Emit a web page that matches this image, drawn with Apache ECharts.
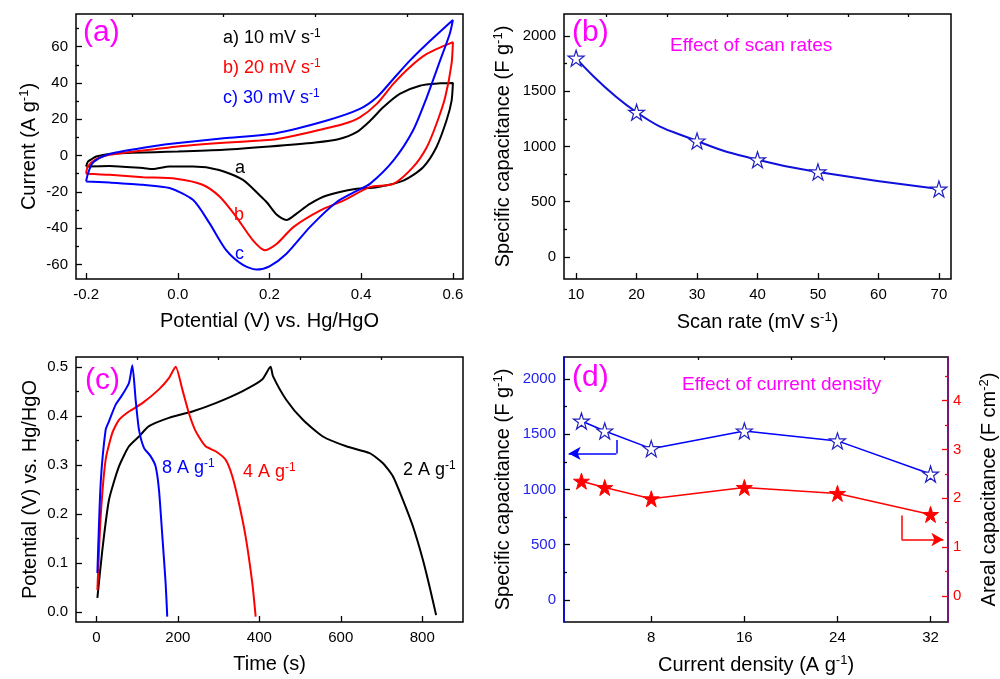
<!DOCTYPE html>
<html>
<head>
<meta charset="utf-8"/>
<script src="https://cdn.jsdelivr.net/npm/echarts@6/dist/echarts.min.js"></script>
<style>
  html, body { margin: 0; padding: 0; background: #fff; }
  #chart { width: 1000px; height: 679px; }
</style>
</head>
<body>
<div id="chart"></div>
<script>
// ---- (a) CV curves: potential (V) / current (A g-1), one loop per scan rate
var cv10X = [-0.2, -0.196, -0.185, -0.178, -0.15, -0.1, -0.05, 0.0, 0.1, 0.2, 0.3, 0.35, 0.39, 0.42, 0.448, 0.484, 0.528, 0.572, 0.6,
             0.597, 0.586, 0.564, 0.535, 0.492, 0.434, 0.39, 0.325, 0.288, 0.259, 0.237, 0.216, 0.194, 0.179, 0.142, 0.09, 0.033, -0.018, -0.055, -0.076, -0.149, -0.2];
var cv10Y = [-6, -3.3, -1.5, -0.5, 0.9, 1.5, 1.9, 2.2, 3.2, 5, 7.2, 9, 12.9, 19.3, 26.6, 34, 38.5, 39.8, 40,
             30, 19.3, 4.6, -6.4, -13.8, -17.4, -18.3, -22, -26.6, -32, -35.5, -32.6, -25.7, -22, -13.4, -7.9, -6, -6, -7.4, -6.9, -5.7, -6];
var cv20X = [-0.2, -0.196, -0.178, -0.149, -0.113, -0.05, 0.0, 0.1, 0.179, 0.214, 0.288, 0.361, 0.397, 0.434, 0.47, 0.506, 0.543, 0.6,
             0.597, 0.583, 0.564, 0.543, 0.513, 0.47, 0.419, 0.361, 0.31, 0.252, 0.216, 0.19, 0.163, 0.127, 0.091, 0.054, -0.004, -0.076, -0.149, -0.2];
var cv20Y = [-10, -6, -2, 0.4, 1.7, 3.5, 5, 7, 8.3, 9, 12.9, 17.4, 21.1, 28.5, 39.5, 48.7, 56, 62.5,
             50.5, 32, 17.4, 4.6, -6.4, -15.6, -17.4, -24.8, -30.3, -39.4, -48.6, -52.1, -46.4, -33.6, -22.6, -16.1, -12.8, -11.9, -10.6, -10];
var cv30X = [-0.2, -0.196, -0.186, -0.164, -0.135, -0.05, -0.004, 0.1, 0.214, 0.325, 0.397, 0.434, 0.47, 0.506, 0.543, 0.6,
             0.593, 0.572, 0.543, 0.513, 0.47, 0.419, 0.39, 0.346, 0.288, 0.237, 0.2, 0.171, 0.142, 0.105, 0.069, 0.033, -0.018, -0.076, -0.149, -0.2];
var cv30Y = [-14.3, -10, -4.2, -0.5, 1.7, 5.3, 6.8, 9.5, 12.3, 19.3, 25.7, 32.1, 42.2, 52.3, 61.5, 74.7,
             67, 52.3, 32.1, 13.8, -2.8, -15.6, -19.5, -25.7, -39.4, -54.1, -61, -62.8, -60.2, -51.9, -37.2, -24.4, -17.9, -16.1, -14.9, -14.3];

// ---- (b) specific capacitance vs scan rate
var scanRates = [10, 20, 30, 40, 50, 70];
var capByScan = [1800, 1310, 1050, 880, 770, 615];

// ---- (c) charge/discharge curves: time (s) / potential (V)
var gcd8T = [2.5, 10.6, 22.8, 31, 47.4, 63.8, 80, 88.3, 96.4, 104.6, 116.8, 133, 145.5, 153.6, 162, 170, 174];
var gcd8V = [0.08, 0.263, 0.372, 0.389, 0.423, 0.443, 0.467, 0.503, 0.433, 0.372, 0.335, 0.318, 0.297, 0.25, 0.154, 0.059, -0.009];
var gcd4T = [2.5, 10.6, 22.8, 39, 55.5, 80, 112.9, 153.6, 178, 194.6, 211, 227, 243.7, 268, 292.8, 317, 333.7, 350, 366.4, 382.8, 391];
var gcd4V = [0.045, 0.195, 0.311, 0.365, 0.392, 0.409, 0.426, 0.454, 0.477, 0.5, 0.454, 0.406, 0.369, 0.338, 0.328, 0.311, 0.277, 0.222, 0.154, 0.059, -0.009];
var gcd2T = [2.5, 14.7, 31, 55.5, 80, 104.6, 129, 178, 235.6, 292.8, 358, 407, 427.7, 433.5, 466, 507, 556, 613.5, 670.7, 703, 727.9, 752.4, 777, 801.5, 818, 834];
var gcd2V = [0.029, 0.127, 0.229, 0.297, 0.338, 0.358, 0.379, 0.396, 0.409, 0.426, 0.45, 0.474, 0.5, 0.481, 0.433, 0.392, 0.358, 0.338, 0.324, 0.304, 0.277, 0.229, 0.175, 0.107, 0.052, -0.006];

// ---- (d) specific / areal capacitance vs current density
var currentDensity = [2, 4, 8, 16, 24, 32];
var capByCurrent = [1620, 1530, 1370, 1530, 1440, 1140];
var arealCap = [2.35, 2.22, 1.99, 2.22, 2.10, 1.67];

// tick positions
var ticksAx = [-0.2, 0, 0.2, 0.4, 0.6],  minorAx = [-0.1, 0.1, 0.3, 0.5];
var ticksAy = [-60, -40, -20, 0, 20, 40, 60], minorAy = [-50, -30, -10, 10, 30, 50, 70];
var ticksBx = [10, 20, 30, 40, 50, 60, 70], minorBx = [15, 25, 35, 45, 55, 65];
var ticksCap = [0, 500, 1000, 1500, 2000], minorCap = [250, 750, 1250, 1750];
var ticksCx = [0, 200, 400, 600, 800], minorCx = [100, 300, 500, 700];
var ticksCy = [0, 0.1, 0.2, 0.3, 0.4, 0.5], minorCy = [0.05, 0.15, 0.25, 0.35, 0.45];
var ticksDx = [8, 16, 24, 32], minorDx = [12, 20, 28];
var ticksAreal = [0, 1, 2, 3, 4], minorAreal = [0.5, 1.5, 2.5, 3.5, 4.5];

// arrows in (d): [x, y] pairs on the left / right axis
var arrowLeft = [[5, 1448], [5, 1327], [0.9, 1327]];
var arrowRight = [[29.5, 1.65], [29.5, 1.157], [33.1, 1.157]];

var FONT = '"Liberation Sans", Arial, Helvetica, sans-serif';
var BLUE = '#0000ff', RED = '#ff0000', MAG = '#ff00ff';

function zip(xs, ys) {
    return xs.map(function (x, i) { return [x, ys[i]]; });
}
function sup(color, size) {
    return { sup: { fontSize: size || 13, fontFamily: FONT, color: color, fill: color, padding: [0, 0, 9, 0] } };
}
function fixed1(v) { return v.toFixed(1); }
function plain(v) { return String(v); }

// main axis (labels + major ticks) and a twin for the short minor ticks
function axisPair(dim, grid, min, max, majors, minors, o) {
    o = o || {};
    var tc = o.tickColor || '#000';
    var main = {
        type: 'value', gridIndex: grid, min: min, max: max, position: o.position,
        name: o.name, nameLocation: 'middle', nameGap: o.nameGap, nameRotate: dim === 'y' ? 90 : 0,
        nameTextStyle: { fontFamily: FONT, fontSize: 20, color: '#000', rich: sup('#000') },
        axisLine: o.line ? { show: true, onZero: false, lineStyle: { color: o.line, width: 1.5 } }
                         : { show: false, onZero: false },
        axisTick: { show: true, inside: true, length: 6, customValues: majors, lineStyle: { color: tc, width: 1.3 } },
        axisLabel: { customValues: majors, formatter: o.fmt || plain, fontFamily: FONT, fontSize: 15,
                     color: o.labelColor || '#000', margin: o.margin || 8 },
        splitLine: { show: false }
    };
    var minor = {
        type: 'value', gridIndex: grid, min: min, max: max, position: o.position,
        axisLine: { show: false, onZero: false },
        axisTick: { show: true, inside: true, length: 3, customValues: minors, lineStyle: { color: tc, width: 1.3 } },
        axisLabel: { show: false },
        splitLine: { show: false }
    };
    return [main, minor];
}

var star = 'path://M50,2 L61,36 L97,36 L68,57 L79,92 L50,71 L21,92 L32,57 L3,36 L39,36 Z';

function gridBox(left, top) {
    return { left: left, top: top, width: 387, height: 265, show: true, borderColor: '#000', borderWidth: 1.5,
             backgroundColor: 'transparent', containLabel: false };
}

var xAxes = [].concat(
    axisPair('x', 0, -0.222, 0.622, ticksAx, minorAx, { name: 'Potential (V) vs. Hg/HgO', nameGap: 32, fmt: fixed1 }),
    axisPair('x', 1, 8, 72, ticksBx, minorBx, { name: 'Scan rate (mV s{sup|-1})', nameGap: 32 }),
    axisPair('x', 2, -50, 900, ticksCx, minorCx, { name: 'Time (s)', nameGap: 32 }),
    axisPair('x', 3, 0.5, 33.5, ticksDx, minorDx, { name: 'Current density (A g{sup|-1})', nameGap: 32 })
);
var yAxes = [].concat(
    axisPair('y', 0, -68, 78, ticksAy, minorAy, { name: 'Current (A g{sup|-1})', nameGap: 36, position: 'left' }),
    axisPair('y', 1, -200, 2200, ticksCap, minorCap, { name: 'Specific capacitance (F g{sup|-1})', nameGap: 50, position: 'left' }),
    axisPair('y', 2, -0.02, 0.52, ticksCy, minorCy, { name: 'Potential (V) vs. Hg/HgO', nameGap: 36, fmt: fixed1, position: 'left' }),
    axisPair('y', 3, -200, 2200, ticksCap, minorCap, { name: 'Specific capacitance (F g{sup|-1})', nameGap: 50,
        line: BLUE, labelColor: '#2222ee', position: 'left' }),
    axisPair('y', 3, -0.53, 4.89, ticksAreal, minorAreal, { name: 'Areal capacitance (F cm{sup|-2})', nameGap: 30,
        line: '#8a0a8a', labelColor: RED, tickColor: RED, position: 'right', margin: 5 })
);

function curve(xi, yi, data, color, extra) {
    var s = {
        type: 'line', xAxisIndex: xi, yAxisIndex: yi, data: data, showSymbol: false, symbol: 'none',
        smooth: 0.25, lineStyle: { color: color, width: 2 }, itemStyle: { color: color }, silent: true
    };
    return Object.assign(s, extra || {});
}

function arrowLines(pts) {
    return [
        [{ coord: pts[0], symbol: 'none' }, { coord: pts[1], symbol: 'none' }],
        [{ coord: pts[1], symbol: 'none' }, { coord: pts[2], symbol: 'arrow' }]
    ];
}

var series = [
    curve(0, 0, zip(cv10X, cv10Y), '#000'),
    curve(0, 0, zip(cv20X, cv20Y), RED),
    curve(0, 0, zip(cv30X, cv30Y), BLUE),

    {
        type: 'line', xAxisIndex: 2, yAxisIndex: 2, data: zip(scanRates, capByScan), smooth: true,
        symbol: star, symbolSize: 16, lineStyle: { color: '#1010dd', width: 2 },
        itemStyle: { color: '#fff', borderColor: '#2020c0', borderWidth: 1.2 }, z: 3
    },

    curve(4, 4, zip(gcd2T, gcd2V), '#000', { smooth: 0.2 }),
    curve(4, 4, zip(gcd4T, gcd4V), RED, { smooth: 0.2 }),
    curve(4, 4, zip(gcd8T, gcd8V), BLUE, { smooth: 0.2 }),

    {
        type: 'line', xAxisIndex: 6, yAxisIndex: 6, data: zip(currentDensity, capByCurrent),
        symbol: star, symbolSize: 16, lineStyle: { color: BLUE, width: 1.5 },
        itemStyle: { color: '#fff', borderColor: '#2020c0', borderWidth: 1.2 },
        markLine: {
            silent: true, symbol: ['none', 'arrow'], symbolSize: [10, 12], label: { show: false },
            lineStyle: { color: BLUE, width: 1.5, type: 'solid' }, data: arrowLines(arrowLeft)
        }
    },
    {
        type: 'line', xAxisIndex: 6, yAxisIndex: 8, data: zip(currentDensity, arealCap),
        symbol: star, symbolSize: 16, lineStyle: { color: RED, width: 1.5 },
        itemStyle: { color: RED, borderColor: RED, borderWidth: 1 },
        markLine: {
            silent: true, symbol: ['none', 'arrow'], symbolSize: [10, 12], label: { show: false },
            lineStyle: { color: RED, width: 1.5, type: 'solid' }, data: arrowLines(arrowRight)
        }
    }
];

function txt(x, y, text, color, size) {
    return {
        type: 'text', x: x, y: y, z: 10,
        style: { text: text, fill: color, fontSize: size, fontFamily: FONT, verticalAlign: 'middle',
                 rich: { sup: { fontSize: 12, fontFamily: FONT, fill: color, padding: [0, 0, 9, 0] } } }
    };
}

var graphics = [
    txt(83, 33, '(a)', MAG, 30),
    txt(572, 33, '(b)', MAG, 30),
    txt(85, 381, '(c)', MAG, 30),
    txt(572, 378, '(d)', MAG, 30),
    txt(223, 38, 'a) 10 mV s{sup|-1}', '#000', 18),
    txt(223, 68, 'b) 20 mV s{sup|-1}', RED, 18),
    txt(223, 98, 'c) 30 mV s{sup|-1}', BLUE, 18),
    txt(235, 168, 'a', '#000', 18),
    txt(234, 215, 'b', RED, 18),
    txt(235, 254, 'c', BLUE, 18),
    txt(670, 46, 'Effect of scan rates', MAG, 19),
    txt(682, 385, 'Effect of current density', MAG, 19),
    txt(162, 468, '8 A g{sup|-1}', BLUE, 18),
    txt(243, 472, '4 A g{sup|-1}', RED, 18),
    txt(403, 470, '2 A g{sup|-1}', '#000', 18)
];

var chart = echarts.init(document.getElementById('chart'));
chart.setOption({
    animation: false,
    backgroundColor: '#fff',
    textStyle: { fontFamily: FONT },
    grid: [gridBox(76, 14), gridBox(564, 14), gridBox(76, 357), gridBox(564, 357)],
    xAxis: xAxes,
    yAxis: yAxes,
    series: series,
    graphic: graphics
});
</script>
</body>
</html>
